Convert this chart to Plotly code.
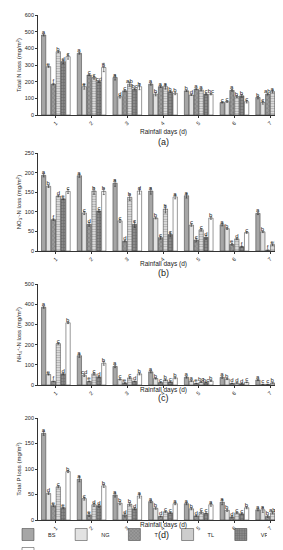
import plotly.graph_objects as go
from plotly.subplots import make_subplots

days = ["1", "2", "3", "4", "5", "6", "7"]
treatments = ["BS", "NG", "T", "TL", "VF", "MC"]

# Panel (a) Total N loss
tn = {
    "BS": [480, 370, 225, 185, 145, 75, 105],
    "NG": [290, 170, 110, 125, 120, 80, 75],
    "T":  [185, 240, 145, 170, 155, 148, 125],
    "TL": [380, 225, 185, 170, 150, 110, 140],
    "VF": [320, 200, 155, 140, 125, 115, 140],
    "MC": [350, 285, 170, 130, 125, 80, 105],
}
tn_err = {
    "BS": [6, 5, 15, 6, 4, 3, 8],
    "NG": [4, 15, 8, 10, 3, 4, 10],
    "T":  [4, 4, 5, 5, 3, 5, 4],
    "TL": [5, 10, 12, 15, 5, 6, 8],
    "VF": [12, 4, 5, 5, 5, 8, 5],
    "MC": [15, 25, 18, 8, 4, 8, 15],
}
tn_let = {
    "BS": ["a", "a", "a", "a", "b", "c", "b"],
    "NG": ["e", "e", "d", "b", "d", "c", "c"],
    "T":  ["f", "c", "c", "a", "a", "a", "ab"],
    "TL": ["b", "c", "ab", "a", "a", "b", "a"],
    "VF": ["d", "cd", "bc", "b", "c", "b", "a"],
    "MC": ["c", "b", "b", "b", "bc", "c", "b"],
}

# Panel (b) NO3- -N loss
no3 = {
    "BS": [193, 192, 173, 153, 141, 67, 96],
    "NG": [165, 97, 77, 84, 66, 57, 49],
    "T":  [80, 68, 25, 34, 28, 17, 2],
    "TL": [140, 153, 137, 107, 54, 31, 16],
    "VF": [133, 102, 68, 42, 35, 11, 26],
    "MC": [152, 152, 153, 138, 84, 47, 27],
}
no3_err = {
    "BS": [4, 4, 8, 8, 6, 3, 3],
    "NG": [3, 4, 4, 2, 3, 2, 2],
    "T":  [2, 5, 2, 4, 5, 2, 1],
    "TL": [2, 8, 8, 10, 3, 2, 2],
    "VF": [2, 3, 8, 6, 5, 1, 3],
    "MC": [5, 8, 8, 5, 3, 2, 1],
}
no3_let = {
    "BS": ["a", "a", "a", "a", "a", "a", "a"],
    "NG": ["b", "c", "c", "b", "c", "b", "b"],
    "T":  ["f", "d", "d", "c", "c", "e", "f"],
    "TL": ["d", "b", "b", "b", "c", "d", "e"],
    "VF": ["e", "c", "c", "c", "d", "f", "d"],
    "MC": ["c", "b", "d", "a", "b", "c", "c"],
}

# Panel (c) NH4+ -N loss
nh4 = {
    "BS": [385, 145, 92, 65, 38, 38, 25],
    "NG": [52, 48, 28, 32, 20, 30, 3],
    "T":  [18, 18, 10, 12, 8, 8, 3],
    "TL": [205, 55, 35, 25, 15, 10, 10],
    "VF": [55, 40, 18, 15, 12, 6, 10],
    "MC": [308, 108, 55, 35, 20, 13, 10],
}
nh4_err = {
    "BS": [5, 8, 6, 5, 4, 5, 3],
    "NG": [3, 6, 3, 3, 3, 3, 1],
    "T":  [2, 2, 2, 2, 1, 1, 1],
    "TL": [3, 5, 4, 3, 2, 1, 1],
    "VF": [4, 3, 2, 2, 2, 1, 1],
    "MC": [4, 10, 5, 4, 2, 2, 1],
}
nh4_let = {
    "BS": ["a", "a", "a", "a", "a", "a", "a"],
    "NG": ["e", "cd", "c", "b", "a", "b", "c"],
    "T":  ["f", "e", "e", "c", "e", "d", "c"],
    "TL": ["c", "c", "c", "b", "bc", "d", "b"],
    "VF": ["d", "d", "d", "c", "bc", "d", "b"],
    "MC": ["b", "b", "b", "b", "b", "c", "b"],
}

# Panel (d) Total P loss
tp = {
    "BS": [170, 80, 49, 36, 32, 35, 20],
    "NG": [52, 42, 33, 23, 22, 19, 20],
    "T":  [28, 10, 10, 7, 8, 6, 7],
    "TL": [65, 30, 31, 16, 15, 14, 14],
    "VF": [24, 28, 22, 14, 13, 12, 13],
    "MC": [95, 67, 47, 32, 30, 24, 23],
}
tp_err = {
    "BS": [4, 5, 4, 2, 2, 5, 2],
    "NG": [2, 3, 3, 2, 2, 2, 5],
    "T":  [2, 3, 4, 1, 1, 2, 2],
    "TL": [2, 3, 3, 1, 2, 1, 2],
    "VF": [1, 3, 2, 1, 1, 1, 2],
    "MC": [2, 3, 4, 2, 3, 2, 3],
}
tp_let = {
    "BS": ["a", "a", "a", "a", "a", "a", "a"],
    "NG": ["d", "c", "b", "b", "b", "b", "a"],
    "T":  ["e", "e", "d", "d", "d", "d", "b"],
    "TL": ["c", "d", "b", "c", "c", "c", "ab"],
    "VF": ["e", "d", "d", "c", "c", "c", "ab"],
    "MC": ["b", "b", "a", "a", "a", "b", "a"],
}

panels = [
    (tn, tn_err, tn_let, "Total N loss (mg/m<sup>2</sup>)", 600, 100, "(a)"),
    (no3, no3_err, no3_let, "NO<sub>3</sub><sup>-</sup>-N loss (mg/m<sup>2</sup>)", 250, 50, "(b)"),
    (nh4, nh4_err, nh4_let, "NH<sub>4</sub><sup>+</sup>-N loss (mg/m<sup>2</sup>)", 500, 100, "(c)"),
    (tp, tp_err, tp_let, "Total P loss (mg/m<sup>2</sup>)", 200, 50, "(d)"),
]

styles = {
    "BS": dict(color="#a6a6a6", pattern=None),
    "NG": dict(color="#e2e2e2", pattern=None),
    "T":  dict(color="#9a9a9a", pattern=dict(shape="x", fgcolor="#555555", size=3, solidity=0.3)),
    "TL": dict(color="#e6e6e6", pattern=dict(shape="-", fgcolor="#707070", size=2.5, solidity=0.45)),
    "VF": dict(color="#8a8a8a", pattern=dict(shape="+", fgcolor="#4a4a4a", size=3, solidity=0.35)),
    "MC": dict(color="#ffffff", pattern=None),
}

H, MT, MB, ML, MR = 550, 7, 38, 30, 3
PH = H - MT - MB

def py(px):
    return (H - MB - px) / PH

domains = [(py(107), 1.0), (py(243), py(145)), (py(377), py(276)), (0.0, py(410))]
xtitle_y = [py(118), py(256), py(388), py(523)]
label_y = [py(127), py(265), py(397), py(534)]

fig = make_subplots(rows=4, cols=1)
FONT = "Liberation Sans, Arial, sans-serif"

for i, (vals, errs, lets, ytitle, ymax, dt, lab) in enumerate(panels):
    r = i + 1
    for t in treatments:
        st = styles[t]
        marker = dict(color=st["color"], line=dict(color="#333333", width=0.5))
        if st["pattern"]:
            marker["pattern"] = st["pattern"]
        extra = {}
        if t == "MC":
            extra["legendwidth"] = 0.19
        fig.add_trace(go.Bar(
            x=days, y=vals[t], name=t,
            marker=marker,
            error_y=dict(type="data", array=errs[t], color="#333333", thickness=0.6, width=1),
            text=lets[t], textposition="outside", cliponaxis=False,
            constraintext="none",
            textfont=dict(size=6, color="#222222", family=FONT),
            showlegend=(i == 0),
            **extra,
        ), row=r, col=1)
    ax = "" if r == 1 else str(r)
    fig.layout["yaxis" + ax].update(
        domain=list(domains[i]), range=[0, ymax], dtick=dt,
        showline=True, linecolor="#333333", linewidth=0.8,
        ticks="outside", ticklen=2, tickwidth=0.6, tickcolor="#333333",
        tickfont=dict(size=5.5, family=FONT, color="#222222"),
        showgrid=False, zeroline=False,
        title=dict(text=ytitle, font=dict(size=6, family=FONT, color="#222222"), standoff=2),
    )
    fig.layout["xaxis" + ax].update(
        showline=True, linecolor="#333333", linewidth=0.8,
        ticks="outside", ticklen=2, tickwidth=0.6, tickcolor="#333333",
        tickangle=-45, tickfont=dict(size=5.5, family=FONT, color="#222222"),
        showgrid=False,
    )
    fig.add_annotation(text="Rainfall days (d)", xref="paper", yref="paper",
                       x=0.5, y=xtitle_y[i], showarrow=False,
                       font=dict(size=6.5, family=FONT, color="#222222"))
    fig.add_annotation(text=lab, xref="paper", yref="paper",
                       x=0.5, y=label_y[i], showarrow=False,
                       font=dict(size=9, family=FONT, color="#222222"))

fig.update_layout(
    width=283, height=H,
    margin=dict(l=ML, r=MR, t=MT, b=MB, autoexpand=False),
    paper_bgcolor="white", plot_bgcolor="white",
    barmode="group", bargap=0.18, bargroupgap=0.12,
    font=dict(family=FONT, color="#222222"),
    legend=dict(orientation="h", x=-0.12, xanchor="left", y=py(536), yanchor="middle",
                traceorder="normal",
                font=dict(size=5.5, family=FONT), entrywidth=0.145, entrywidthmode="fraction",
                itemwidth=30, bgcolor="rgba(0,0,0,0)"),
)

fig.write_html("out.html")
